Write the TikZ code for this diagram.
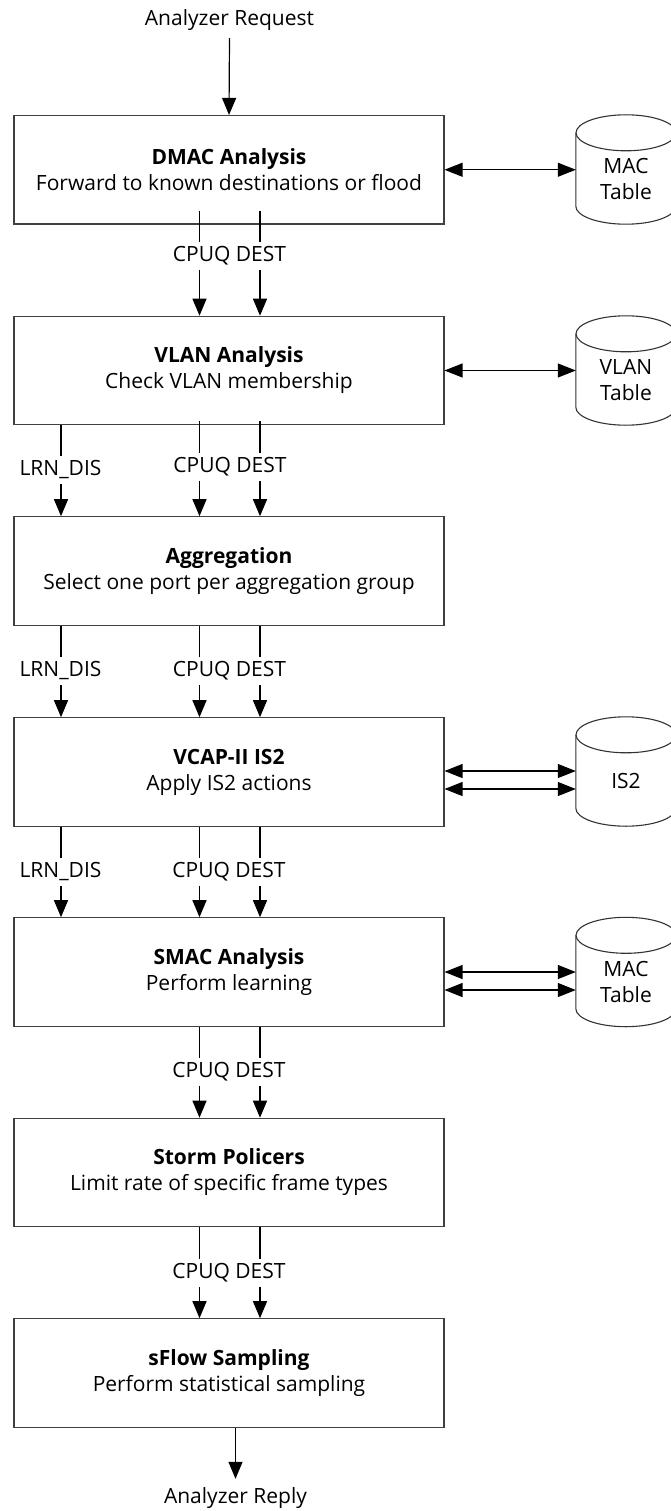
\documentclass[tikz,border=0pt]{standalone}
\usepackage{fontspec}
\setmainfont{Open Sans}
\usetikzlibrary{arrows.meta,calc}
\tikzset{
  stage/.style={draw=black!75, line width=1.1pt, minimum width=430, minimum height=108.5,
    inner sep=0pt, align=center, font=\fontsize{21}{26}\selectfont},
  sig/.style={inner sep=0pt, minimum height=28, font=\fontsize{21}{26}\selectfont},
  io/.style={inner sep=0pt, font=\fontsize{21}{26}\selectfont},
  cylbox/.style={inner sep=0pt, minimum width=100, minimum height=109},
  cyltext/.style={inner sep=0pt, align=center, font=\fontsize{21}{26}\selectfont},
  cylline/.style={draw=black!80, line width=1.1pt},
  sigline/.style={draw=black, line width=1.2pt},
  sigarrow/.style={draw=black, line width=1.2pt, -{Triangle[length=17pt,width=14pt]}},
  dblarrow/.style={draw=black, line width=1.2pt, {Triangle[length=18pt,width=14pt]}-{Triangle[length=18pt,width=14pt]}}
}
\begin{document}
\begin{tikzpicture}[x=1pt,y=-1pt]
\useasboundingbox (0,0) rectangle (671,1511);
\fill[white] (0,0) rectangle (671,1511);

\coordinate (xL) at (61,0);
\coordinate (xC) at (199.5,0);
\coordinate (xD) at (260,0);

% stages
\node[stage] (b1) at (229,169.75) {\textbf{DMAC Analysis}\\Forward to known destinations or flood};
\node[stage] (b2) at (229,370.5) {\textbf{VLAN Analysis}\\Check VLAN membership};
\node[stage] (b3) at (229,571) {\textbf{Aggregation}\\Select one port per aggregation group};
\node[stage] (b4) at (229,772) {\textbf{VCAP-II IS2}\\Apply IS2 actions};
\node[stage] (b5) at (229,972) {\textbf{SMAC Analysis}\\Perform learning};
\node[stage] (b6) at (229,1172.5) {\textbf{Storm Policers}\\Limit rate of specific frame types};
\node[stage] (b7) at (229,1373) {\textbf{sFlow Sampling}\\Perform statistical sampling};

% input / output
\node[io, minimum height=36] (req) at (229.5,20) {Analyzer Request};
\node[io, minimum height=38] (rep) at (235.5,1498) {Analyzer Reply};
\draw[sigarrow] (req.south) -- (b1.north);
\draw[sigarrow] (b7.south -| rep) -- (rep.north);

% tables (cylinders)
\foreach \n/\cy/\txt in {c1/169.5/{MAC\\Table}, c2/370.5/{VLAN\\Table}, c4/771.5/{IS2}, c5/972/{MAC\\Table}}{
  \node[cylbox] (\n) at (626,\cy) {};
  \draw[cylline] ($(\n.north west)+(0,18)$) -- ($(\n.south west)+(0,-18)$)
     arc[start angle=180, end angle=360, x radius=50pt, y radius=18pt]
     -- ($(\n.north east)+(0,18)$);
  \draw[cylline] ($(\n.north)+(0,18)$) ellipse[x radius=50pt, y radius=18pt];
  \node[cyltext] (\n t) at ($(\n.north)+(0,64.5)$) {\txt};
}

% table accesses
\draw[dblarrow] (b1.east) -- (b1.east -| c1.west);
\draw[dblarrow] (b2.east) -- (b2.east -| c2.west);
\draw[dblarrow] ($(b4.east)+(0,-1)$) -- ($(b4.east -| c4.west)+(0,-1)$);
\draw[dblarrow] ($(b4.east)+(0,17)$) -- ($(b4.east -| c4.west)+(0,17)$);
\draw[dblarrow] ($(b5.east)+(0,0)$) -- ($(b5.east -| c5.west)+(0,0)$);
\draw[dblarrow] ($(b5.east)+(0,18)$) -- ($(b5.east -| c5.west)+(0,18)$);

% signals b1 -> b2
\node[sig] (s1) at (229.5,256) {CPUQ DEST};
\draw[sigline] ($(b1.south -| xC)+(0,-14)$) -- (s1.north -| xC);
\draw[sigline] ($(b1.south -| xD)+(0,-14)$) -- (s1.north -| xD);
\draw[sigarrow] (s1.south -| xC) -- (b2.north -| xC);
\draw[sigarrow] (s1.south -| xD) -- (b2.north -| xD);

% signals b2 -> b3
\node[sig] (s2) at (230,467) {CPUQ DEST};
\node[sig] (l2) at (60.5,470) {LRN\_DIS};
\draw[sigline] ($(b2.south -| xC)+(0,-4)$) -- (s2.north -| xC);
\draw[sigline] ($(b2.south -| xD)+(0,-4)$) -- (s2.north -| xD);
\draw[sigline] (b2.south -| xL) -- (l2.north -| xL);
\draw[sigarrow] (s2.south -| xC) -- (b3.north -| xC);
\draw[sigarrow] (s2.south -| xD) -- (b3.north -| xD);
\draw[sigarrow] (l2.south -| xL) -- (b3.north -| xL);

% signals b3 -> b4
\node[sig] (s3) at (229.5,671) {CPUQ DEST};
\node[sig] (l3) at (60.5,671) {LRN\_DIS};
\draw[sigline] (b3.south -| xC) -- (s3.north -| xC);
\draw[sigline] (b3.south -| xD) -- (s3.north -| xD);
\draw[sigline] (b3.south -| xL) -- (l3.north -| xL);
\draw[sigarrow] (s3.south -| xC) -- (b4.north -| xC);
\draw[sigarrow] (s3.south -| xD) -- (b4.north -| xD);
\draw[sigarrow] (l3.south -| xL) -- (b4.north -| xL);

% signals b4 -> b5
\node[sig] (s4) at (229,872) {CPUQ DEST};
\node[sig] (l4) at (60.5,872) {LRN\_DIS};
\draw[sigline] (b4.south -| xC) -- (s4.north -| xC);
\draw[sigline] (b4.south -| xD) -- (s4.north -| xD);
\draw[sigline] (b4.south -| xL) -- (l4.north -| xL);
\draw[sigarrow] (s4.south -| xC) -- (b5.north -| xC);
\draw[sigarrow] (s4.south -| xD) -- (b5.north -| xD);
\draw[sigarrow] (l4.south -| xL) -- (b5.north -| xL);

% signals b5 -> b6
\node[sig] (s5) at (229,1072) {CPUQ DEST};
\draw[sigline] (b5.south -| xC) -- (s5.north -| xC);
\draw[sigline] (b5.south -| xD) -- (s5.north -| xD);
\draw[sigarrow] (s5.south -| xC) -- (b6.north -| xC);
\draw[sigarrow] (s5.south -| xD) -- (b6.north -| xD);

% signals b6 -> b7
\node[sig] (s6) at (229,1273) {CPUQ DEST};
\draw[sigline] (b6.south -| xC) -- (s6.north -| xC);
\draw[sigline] (b6.south -| xD) -- (s6.north -| xD);
\draw[sigarrow] (s6.south -| xC) -- (b7.north -| xC);
\draw[sigarrow] (s6.south -| xD) -- (b7.north -| xD);
\end{tikzpicture}
\end{document}
